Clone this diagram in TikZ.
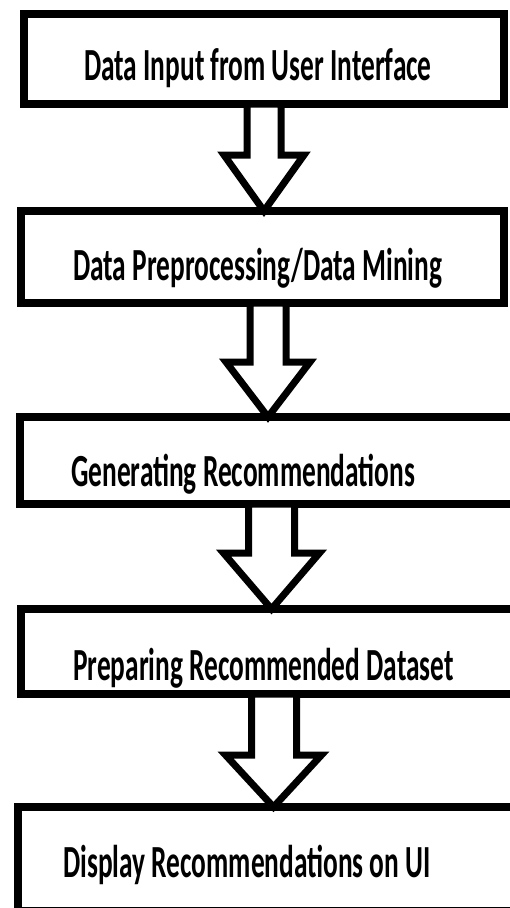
\documentclass[tikz,border=0pt]{standalone}
\usepackage{fontspec}
\setmainfont{Carlito}[FakeStretch=0.595]

\begin{document}
\begin{tikzpicture}[x=1pt,y=-1pt]
\tikzstyle{every node}+=[inner sep=0pt]
\tikzstyle{stage}=[draw=black,line width=8pt,rectangle,outer sep=0pt]
\tikzstyle{caption}=[anchor=base west,font=\fontsize{46}{50}\selectfont\bfseries]
\tikzstyle{hollow}=[draw=black,fill=white,line width=7pt,line join=miter]
\useasboundingbox (0,0) rectangle (510,908);
\clip (0,0) rectangle (510,908);
% stages
\node [stage,minimum width=480,minimum height=90] (b1) at (264,59) {};
\node [stage,minimum width=483,minimum height=92] (b2) at (262.5,257) {};
\node [stage,minimum width=520,minimum height=87] (b3) at (280,460.5) {};
\node [stage,minimum width=519,minimum height=85] (b4) at (280.5,651.5) {};
\node [stage,minimum width=522,minimum height=104] (b5) at (279,859) {};
\node [caption] (t1) at (84,80) {Data Input from User Interface};
\node [caption] (t2) at (73,280) {Data Preprocessing/Data Mining};
\node [caption] (t3) at (71,486) {Generating Recommendations};
\node [caption] (t4) at (73,680) {Preparing Recommended Dataset};
\node [caption] (t5) at (63,877) {Display Recommendations on UI};
% block arrows
\draw [hollow] (b1.south -| 247,0) -- (247,155) -- (224,155) -- (b2.north -| 264,0)
  -- (304,155) -- (281,155) -- (b1.south -| 281,0) -- cycle;
\draw [hollow] (b2.south -| 250,0) -- (250,362) -- (226,362) -- (b3.north -| 268,0)
  -- (310,362) -- (286,362) -- (b2.south -| 286,0) -- cycle;
\draw [hollow] (b3.south -| 248.5,0) -- (248.5,553) -- (223.5,553) -- (b4.north -| 271.5,0)
  -- (319.5,553) -- (294.5,553) -- (b3.south -| 294.5,0) -- cycle;
\draw [hollow] (b4.south -| 251.5,0) -- (251.5,755) -- (225.5,755) -- (b5.north -| 273.5,0)
  -- (321.5,755) -- (296.5,755) -- (b4.south -| 296.5,0) -- cycle;
\end{tikzpicture}
\end{document}
